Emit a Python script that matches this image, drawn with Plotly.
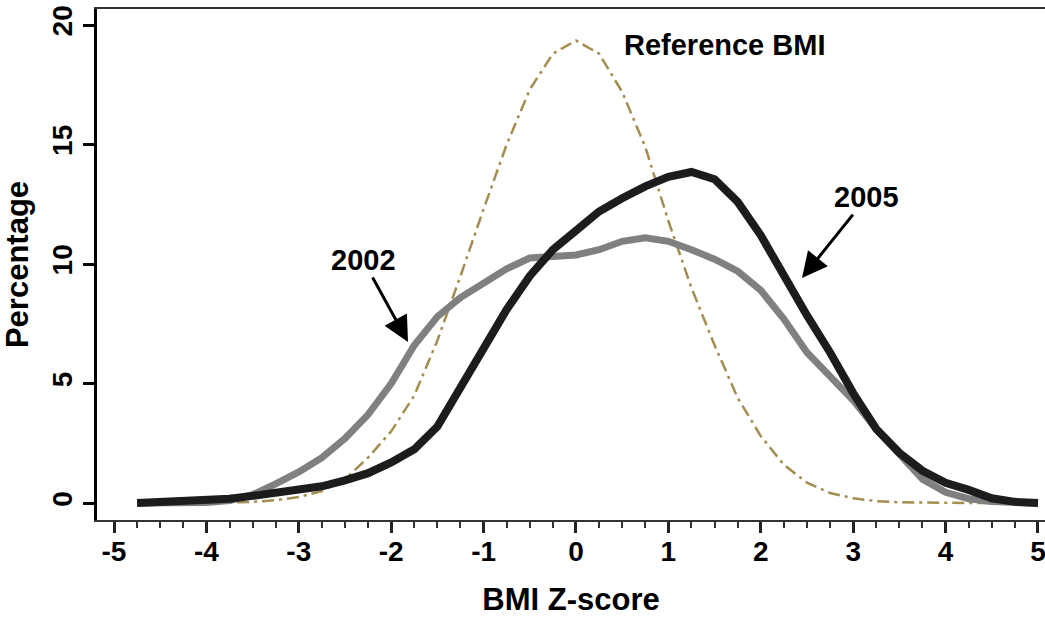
import plotly.graph_objects as go

# BMI Z-score categories (0.25 steps)
z_score = [-4.75, -4.5, -4.25, -4, -3.75, -3.5, -3.25, -3, -2.75, -2.5,
           -2.25, -2, -1.75, -1.5, -1.25, -1, -0.75, -0.5, -0.25, 0,
           0.25, 0.5, 0.75, 1, 1.25, 1.5, 1.75, 2, 2.25, 2.5,
           2.75, 3, 3.25, 3.5, 3.75, 4, 4.25, 4.5, 4.75, 5]

reference_bmi = [0, 0, 0, 0, 0.02, 0.05, 0.12, 0.25, 0.5, 1.0,
                 1.9, 3.0, 4.5, 6.8, 9.5, 12.3, 15.0, 17.3, 18.8, 19.35,
                 18.8, 17.2, 14.9, 11.8, 9.0, 6.6, 4.4, 2.8, 1.6, 0.85,
                 0.42, 0.2, 0.08, 0.03, 0.01, 0, 0, 0, 0, 0]

pct_2002 = [0, 0, 0, 0.02, 0.1, 0.35, 0.8, 1.3, 1.9, 2.7,
            3.7, 5.0, 6.6, 7.8, 8.6, 9.2, 9.8, 10.25, 10.35, 10.38,
            10.6, 10.95, 11.1, 10.95, 10.6, 10.2, 9.7, 8.9, 7.7, 6.3,
            5.3, 4.3, 3.1, 2.0, 1.0, 0.45, 0.18, 0.06, 0.0, 0]

pct_2005 = [0, 0.03, 0.07, 0.12, 0.18, 0.3, 0.45, 0.6, 0.7, 0.95,
            1.25, 1.7, 2.25, 3.2, 4.8, 6.5, 8.1, 9.5, 10.6, 11.4,
            12.2, 12.75, 13.25, 13.65, 13.85, 13.55, 12.6, 11.2, 9.5, 7.85,
            6.3, 4.6, 3.1, 2.1, 1.35, 0.85, 0.55, 0.2, 0.05, 0]

x_ticks = [-5, -4, -3, -2, -1, 0, 1, 2, 3, 4, 5]
y_ticks = [0, 5, 10, 15, 20]

FONT = "Arial, 'Liberation Sans', sans-serif"

fig = go.Figure()
fig.add_trace(go.Scatter(x=z_score, y=reference_bmi, mode="lines",
                         line=dict(color="#a38d4f", width=2.5, dash="12px,5px,3px,5px"),
                         name="Reference BMI"))
fig.add_trace(go.Scatter(x=z_score, y=pct_2002, mode="lines",
                         line=dict(color="#808080", width=7), name="2002"))
fig.add_trace(go.Scatter(x=z_score, y=pct_2005, mode="lines",
                         line=dict(color="#1c1c1c", width=8), name="2005"))

ann_font = dict(family=FONT, size=29, color="black", weight="bold")
fig.add_annotation(x=-1.818, y=6.74, ax=-2.305, ay=10.17, axref="x", ayref="y",
                   text="2002", showarrow=True, arrowhead=2, arrowsize=1.7,
                   arrowwidth=3, arrowcolor="black", font=ann_font, standoff=0)
fig.add_annotation(x=2.446, y=9.41, ax=3.149, ay=12.8, axref="x", ayref="y",
                   text="2005", showarrow=True, arrowhead=2, arrowsize=1.7,
                   arrowwidth=3, arrowcolor="black", font=ann_font, standoff=0)
fig.add_annotation(x=1.61, y=19.16, text="Reference BMI", showarrow=False,
                   font=ann_font)

fig.update_layout(
    width=1045, height=617,
    margin=dict(l=97, r=0, t=9, b=97),
    plot_bgcolor="white", paper_bgcolor="white",
    showlegend=False,
    font=dict(family=FONT, color="black"),
)
fig.update_xaxes(
    range=[-5.184, 5.076], tickvals=x_ticks, ticktext=[str(v) for v in x_ticks],
    showgrid=False, zeroline=False, showline=True, linecolor="#333333", linewidth=2,
    mirror=True, ticks="outside", ticklen=11, tickwidth=2.5, tickcolor="#222222",
    minor=dict(dtick=0.25, tick0=0, ticks="outside", ticklen=6, tickwidth=2, tickcolor="#333333"),
    tickfont=dict(family=FONT, size=28, color="black", weight="bold"),
    ticklabeloverflow="allow", ticklabelstandoff=-6,
    title=dict(text="BMI Z-score", standoff=26,
               font=dict(family=FONT, size=31, color="black", weight="bold")),
)
fig.update_yaxes(
    range=[-0.71, 20.67], tickvals=y_ticks, ticktext=[str(v) for v in y_ticks],
    showgrid=False, zeroline=False, showline=True, linecolor="black", linewidth=3,
    ticks="outside", ticklen=11, tickwidth=3, tickcolor="black", tickangle=-90,
    tickfont=dict(family=FONT, size=28, color="black", weight="bold"),
    title=dict(text="Percentage", standoff=14,
               font=dict(family=FONT, size=31, color="black", weight="bold")),
)

fig.write_html("out.html", config={"displayModeBar": False})
